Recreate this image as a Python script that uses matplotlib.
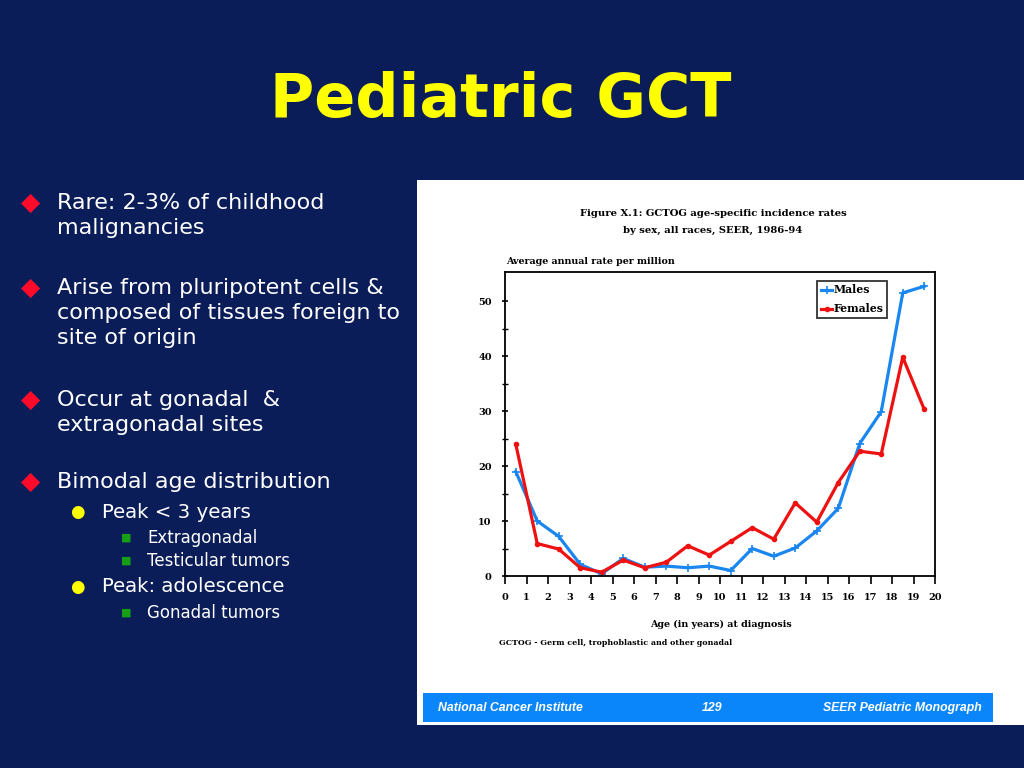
import matplotlib
matplotlib.use("Agg")
import matplotlib.pyplot as plt
from matplotlib.patches import Rectangle

# data
age = [0.5, 1.5, 2.5, 3.5, 4.5, 5.5, 6.5, 7.5, 8.5, 9.5,
       10.5, 11.5, 12.5, 13.5, 14.5, 15.5, 16.5, 17.5, 18.5, 19.5]
males = [19.0, 10.0, 7.2, 2.1, 0.4, 3.2, 1.6, 1.8, 1.5, 1.8,
         1.0, 5.0, 3.6, 5.1, 8.2, 12.3, 24.1, 29.9, 51.5, 52.7]
females = [24.0, 5.9, 4.9, 1.5, 0.7, 2.9, 1.5, 2.5, 5.5, 3.8,
           6.3, 8.8, 6.7, 13.3, 9.8, 17.0, 22.7, 22.2, 39.8, 30.3]
x_ticks = list(range(0, 21))
y_ticks = [0, 10, 20, 30, 40, 50]

bullets = [
    ("Rare: 2-3% of childhood\nmalignancies", 203),
    ("Arise from pluripotent cells &\ncomposed of tissues foreign to\nsite of origin", 288),
    ("Occur at gonadal  &\nextragonadal sites", 400),
    ("Bimodal age distribution", 482),
]
sub_bullets = [("Peak < 3 years", 512), ("Peak: adolescence", 587)]
sub_sub_bullets = [("Extragonadal", 538), ("Testicular tumors", 561), ("Gonadal tumors", 613)]

NAVY = "#0b1d58"
W, H = 1024, 768


def fx(px):
    return px / W


def fy(py):
    return 1 - py / H


fig = plt.figure(figsize=(10.24, 7.68), dpi=100, facecolor=NAVY)

# white picture panel + blue footer bar (behind the axes)
fig.patches.append(Rectangle((fx(417), fy(725)), fx(1024) - fx(417), fy(180) - fy(725),
                             transform=fig.transFigure, facecolor="white", edgecolor="none", zorder=-2))
fig.patches.append(Rectangle((fx(423), fy(722)), fx(993) - fx(423), fy(693) - fy(722),
                             transform=fig.transFigure, facecolor="#0b86fa", edgecolor="none", zorder=-1))

# slide title
fig.text(fx(501), fy(100), "Pediatric GCT", color="#ffff00", fontsize=43.5, fontweight="bold",
         family="DejaVu Sans", ha="center", va="center")

# bullet list
for txt, y in bullets:
    fig.text(fx(31), fy(y), "\u25c6", color="#ff0a2a", fontsize=18, ha="center", va="center")
    fig.text(fx(57), fy(y) + 0.0135, txt, color="white", fontsize=16, family="DejaVu Sans",
             ha="left", va="top", linespacing=1.32)
for txt, y in sub_bullets:
    fig.text(fx(77), fy(y), "\u25cf", color="#ffff00", fontsize=12, ha="center", va="center")
    fig.text(fx(102), fy(y), txt, color="white", fontsize=14.2, family="DejaVu Sans",
             ha="left", va="center")
for txt, y in sub_sub_bullets:
    fig.text(fx(126), fy(y), "\u25a0", color="#16a016", fontsize=8, ha="center", va="center")
    fig.text(fx(147), fy(y), txt, color="white", fontsize=12, family="DejaVu Sans",
             ha="left", va="center")

# chart texts
serif = "DejaVu Serif"
fig.text(fx(713), fy(213), "Figure X.1: GCTOG age-specific incidence rates", fontsize=7.2,
         fontweight="bold", family=serif, ha="center", va="center")
fig.text(fx(713), fy(230), "by sex, all races, SEER, 1986-94", fontsize=7.2,
         fontweight="bold", family=serif, ha="center", va="center")
fig.text(fx(506), fy(262), "Average annual rate per million", fontsize=6.8,
         fontweight="bold", family=serif, ha="left", va="center")
fig.text(fx(721), fy(624), "Age (in years) at diagnosis", fontsize=6.8,
         fontweight="bold", family=serif, ha="center", va="center")
fig.text(fx(499), fy(643), "GCTOG - Germ cell, trophoblastic and other gonadal", fontsize=5.7,
         fontweight="bold", family=serif, ha="left", va="center")

# footer
foot = dict(color="white", fontsize=8.8, fontweight="bold", style="italic",
            family="Liberation Sans", va="center")
fig.text(fx(438), fy(708), "National Cancer Institute", ha="left", **foot)
fig.text(fx(712), fy(708), "129", ha="center", **foot)
fig.text(fx(982), fy(708), "SEER Pediatric Monograph", ha="right", **foot)

# the chart itself
ax = fig.add_axes([fx(505), fy(576), fx(935) - fx(505), fy(272) - fy(576)])
ax.set_facecolor("white")
ax.plot(age, males, color="#1a86f0", lw=2.3, marker="+", ms=6, mew=1.2, label="Males")
ax.plot(age, females, color="#ee1111", lw=2.3, marker="o", ms=3, label="Females")
ax.set_xlim(0, 20)
ax.set_ylim(0, 55.3)
ax.set_xticks(x_ticks)
ax.set_yticks(y_ticks)
ax.set_yticks([5, 15, 25, 35, 45], minor=True)
for s in ax.spines.values():
    s.set_linewidth(1.3)
ax.tick_params(axis="x", direction="out", length=6, width=1.2, pad=6, labelsize=7)
ax.tick_params(axis="y", which="major", direction="inout", length=5, width=1.2, pad=7, labelsize=7)
ax.tick_params(axis="y", which="minor", direction="inout", length=4, width=1.0)
for lab in ax.get_xticklabels() + ax.get_yticklabels():
    lab.set_fontweight("bold")
    lab.set_family(serif)

leg = ax.legend(loc="upper right", bbox_to_anchor=(0.888, 0.972), borderaxespad=0,
                handlelength=1.0, handletextpad=0.1, borderpad=0.35, labelspacing=0.75,
                fancybox=False, prop={"family": serif, "weight": "bold", "size": 7.8})
leg.get_frame().set_edgecolor("black")
leg.get_frame().set_linewidth(1.3)

fig.savefig("out.png", dpi=100, facecolor=NAVY)
